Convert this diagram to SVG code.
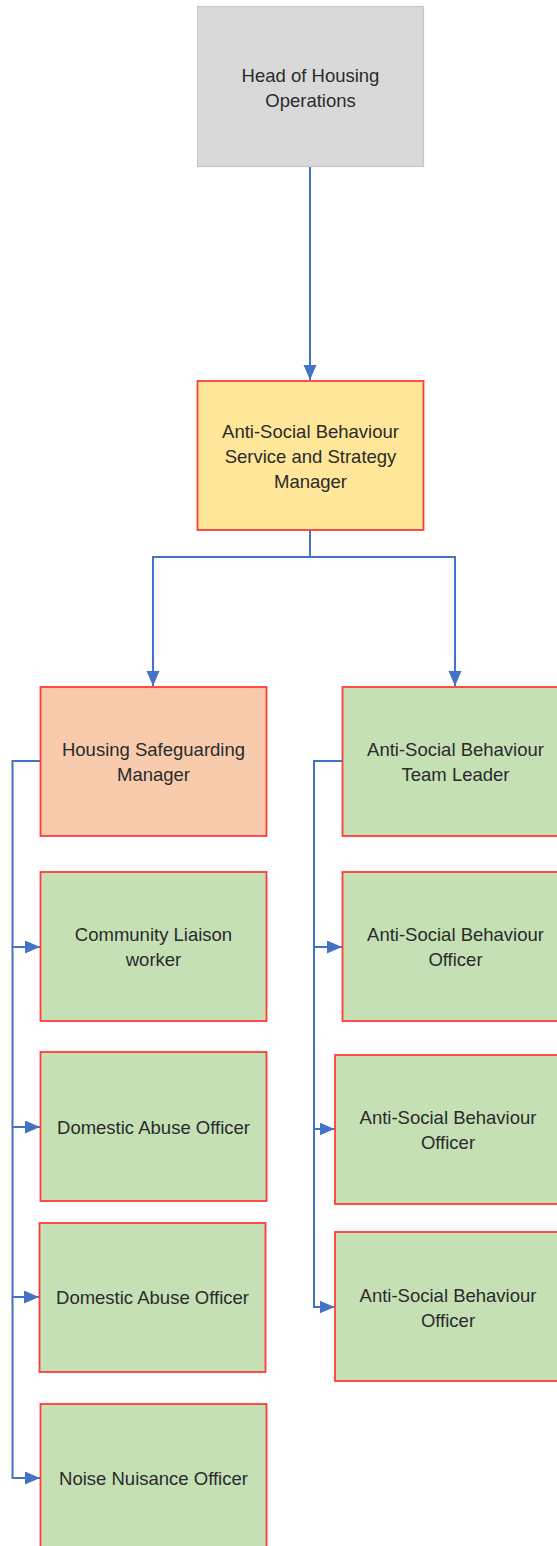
<svg xmlns="http://www.w3.org/2000/svg" width="557" height="1546" viewBox="0 0 557 1546">
<style>
.box{stroke:#ff3b3b;stroke-width:1.8}
.g{fill:#c5e0b4}
.o{fill:#f8cbad}
.y{fill:#ffe699}
.h{fill:#d9d9d9;stroke:#c8c8c8;stroke-width:1.2}
.t{font-family:"Liberation Sans",Arial,sans-serif;font-size:18.5px;fill:#2b2b2b;text-anchor:middle;dominant-baseline:central}
.c{fill:none;stroke:#4472c4;stroke-width:2}
</style>
<defs>
<marker id="arr" markerUnits="userSpaceOnUse" markerWidth="16" markerHeight="14" refX="15" refY="6.5" orient="auto">
<path d="M0,0 L15,6.5 L0,13 z" fill="#4472c4"/>
</marker>
</defs>
<rect width="557" height="1546" fill="#ffffff"/>
<g id="connectors">
<path class="c" d="M310,167 V380" marker-end="url(#arr)"/>
<path class="c" d="M310,530 V557 H153 V686" marker-end="url(#arr)"/>
<path class="c" d="M310,557 H455 V686" marker-end="url(#arr)"/>
<path class="c" d="M40.5,761 H12.5 V1478 H40" marker-end="url(#arr)"/>
<path class="c" d="M12.5,947 H40" marker-end="url(#arr)"/>
<path class="c" d="M12.5,1127 H40" marker-end="url(#arr)"/>
<path class="c" d="M12.5,1297 H39" marker-end="url(#arr)"/>
<path class="c" d="M342.5,761 H314 V1307 H334.5" marker-end="url(#arr)"/>
<path class="c" d="M314,947 H342" marker-end="url(#arr)"/>
<path class="c" d="M314,1129 H334.5" marker-end="url(#arr)"/>
</g>
<g id="head">
<rect class="h" x="197.5" y="6.5" width="226" height="160"/>
<text class="t" x="310.5" y="75">Head of Housing</text>
<text class="t" x="310.5" y="100">Operations</text>
</g>
<g id="asb-manager">
<rect class="box y" x="197.5" y="381" width="226" height="149"/>
<text class="t" x="310.5" y="431">Anti-Social Behaviour</text>
<text class="t" x="310.5" y="456">Service and Strategy</text>
<text class="t" x="310.5" y="481">Manager</text>
</g>
<g id="hs-manager">
<rect class="box o" x="40.5" y="687" width="226" height="149"/>
<text class="t" x="153.5" y="749">Housing Safeguarding</text>
<text class="t" x="153.5" y="774">Manager</text>
</g>
<g id="community-liaison">
<rect class="box g" x="40.5" y="872" width="226" height="149"/>
<text class="t" x="153.5" y="934">Community Liaison</text>
<text class="t" x="153.5" y="959">worker</text>
</g>
<g id="domestic-abuse-1">
<rect class="box g" x="40.5" y="1052" width="226" height="149"/>
<text class="t" x="153.5" y="1127">Domestic Abuse Officer</text>
</g>
<g id="domestic-abuse-2">
<rect class="box g" x="39.5" y="1223" width="226" height="149"/>
<text class="t" x="152.5" y="1297">Domestic Abuse Officer</text>
</g>
<g id="noise-nuisance">
<rect class="box g" x="40.5" y="1404" width="226" height="149"/>
<text class="t" x="153.5" y="1478">Noise Nuisance Officer</text>
</g>
<g id="asb-team-leader">
<rect class="box g" x="342.5" y="687" width="226" height="149"/>
<text class="t" x="455.5" y="749">Anti-Social Behaviour</text>
<text class="t" x="455.5" y="774">Team Leader</text>
</g>
<g id="asb-officer-1">
<rect class="box g" x="342.5" y="872" width="226" height="149"/>
<text class="t" x="455.5" y="934">Anti-Social Behaviour</text>
<text class="t" x="455.5" y="959">Officer</text>
</g>
<g id="asb-officer-2">
<rect class="box g" x="335" y="1055" width="226" height="149"/>
<text class="t" x="448" y="1117">Anti-Social Behaviour</text>
<text class="t" x="448" y="1142">Officer</text>
</g>
<g id="asb-officer-3">
<rect class="box g" x="335" y="1232" width="226" height="149"/>
<text class="t" x="448" y="1295">Anti-Social Behaviour</text>
<text class="t" x="448" y="1320">Officer</text>
</g>
</svg>
